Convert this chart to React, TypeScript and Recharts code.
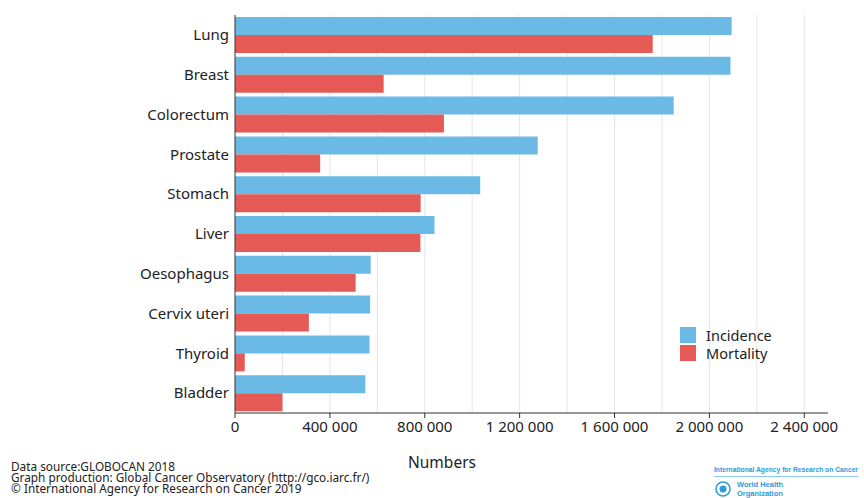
import React from 'react';
import {
  BarChart, Bar, XAxis, YAxis, CartesianGrid
} from 'recharts';

const cancers = ['Lung', 'Breast', 'Colorectum', 'Prostate', 'Stomach', 'Liver', 'Oesophagus', 'Cervix uteri', 'Thyroid', 'Bladder'];
const incidence = [2093876, 2088849, 1849518, 1276106, 1033701, 841080, 572034, 569847, 567233, 549393];
const mortality = [1761007, 626679, 880792, 358989, 782685, 781631, 508585, 311365, 41071, 199922];
const xTicks = [0, 400000, 800000, 1200000, 1600000, 2000000, 2400000];
const gridValues = [200000, 400000, 600000, 800000, 1000000, 1200000, 1400000, 1600000, 1800000, 2000000, 2200000, 2400000];
const seriesNames = ['Incidence', 'Mortality'];
const footerLines = [
  'Data source:GLOBOCAN 2018',
  'Graph production: Global Cancer Observatory (http://gco.iarc.fr/)',
  '© International Agency for Research on Cancer 2019',
];

const BLUE = '#6bb9e5';
const RED = '#e65a55';
const FONT = '"Noto Sans", "Open Sans", sans-serif';
const LOGO_FONT = '"Liberation Sans", Arial, sans-serif';

const data = cancers.map((name, i) => ({ name, Incidence: incidence[i], Mortality: mortality[i] }));

const fmt = (v: number) => String(v).replace(/\B(?=(\d{3})+(?!\d))/g, ' ');

export default function App() {
  return (
    <div style={{ position: 'absolute', left: 0, top: 0, width: 864, height: 498, background: '#fff', fontFamily: FONT }}>
      <BarChart
        width={864}
        height={498}
        data={data}
        layout="vertical"
        margin={{ top: 15, right: 36, bottom: 55, left: 0 }}
        barCategoryGap={2}
        barGap={0}
      >
        <CartesianGrid
          horizontal={false}
          stroke="#e6e6e6"
          verticalCoordinatesGenerator={({ offset }: any) =>
            gridValues.map(v => offset.left + (v / 2500000) * offset.width)}
        />
        <XAxis
          type="number"
          domain={[0, 2500000]}
          ticks={xTicks}
          tickFormatter={fmt}
          stroke="#333"
          height={30}
          tickSize={5}
          tickMargin={3}
          tick={{ fill: '#222', fontSize: 15, fontFamily: FONT }}
        />
        <YAxis
          type="category"
          dataKey="name"
          width={235}
          stroke="#333"
          tickLine={false}
          tickSize={4}
          tickMargin={2}
          tick={{ fill: '#222', fontSize: 15, fontFamily: FONT }}
        />
        <Bar dataKey="Incidence" fill={BLUE} isAnimationActive={false} />
        <Bar dataKey="Mortality" fill={RED} isAnimationActive={false} />
      </BarChart>

      <div style={{ position: 'absolute', left: 680, top: 326, fontSize: 14.5, lineHeight: '18px', color: '#222' }}>
        {seriesNames.map((s, i) => (
          <div key={s} style={{ display: 'flex', alignItems: 'center', height: 18 }}>
            <span style={{ display: 'inline-block', width: 16, height: 16, background: i === 0 ? BLUE : RED, marginRight: 10 }} />
            <span>{s}</span>
          </div>
        ))}
      </div>

      <div style={{ position: 'absolute', left: 408, top: 451, fontSize: 15.5, color: '#222' }}>Numbers</div>

      <div style={{ position: 'absolute', left: 11, top: 461, fontSize: 11.8, lineHeight: '11.2px', color: '#222' }}>
        {footerLines.map(t => <div key={t}>{t}</div>)}
      </div>

      <svg style={{ position: 'absolute', left: 710, top: 462 }} width={154} height={36}>
        <text x={4} y={10} fontSize={7} fontWeight="bold" fill="#2d9ad9" fontFamily={LOGO_FONT}
          textLength={144} lengthAdjust="spacingAndGlyphs">
          International Agency for Research on Cancer
        </text>
        <line x1={4} y1={14.5} x2={148} y2={14.5} stroke="#8cc8ee" strokeWidth={1} />
        <circle cx={13} cy={27} r={7} fill="none" stroke="#2d9ad9" strokeWidth={1.5} />
        <circle cx={13} cy={27} r={3.5} fill="#2d9ad9" />
        <text x={27} y={25} fontSize={7.5} fontWeight="bold" fill="#2d9ad9" fontFamily={LOGO_FONT}>World Health</text>
        <text x={27} y={33.5} fontSize={7.5} fontWeight="bold" fill="#2d9ad9" fontFamily={LOGO_FONT}>Organization</text>
      </svg>
    </div>
  );
}
